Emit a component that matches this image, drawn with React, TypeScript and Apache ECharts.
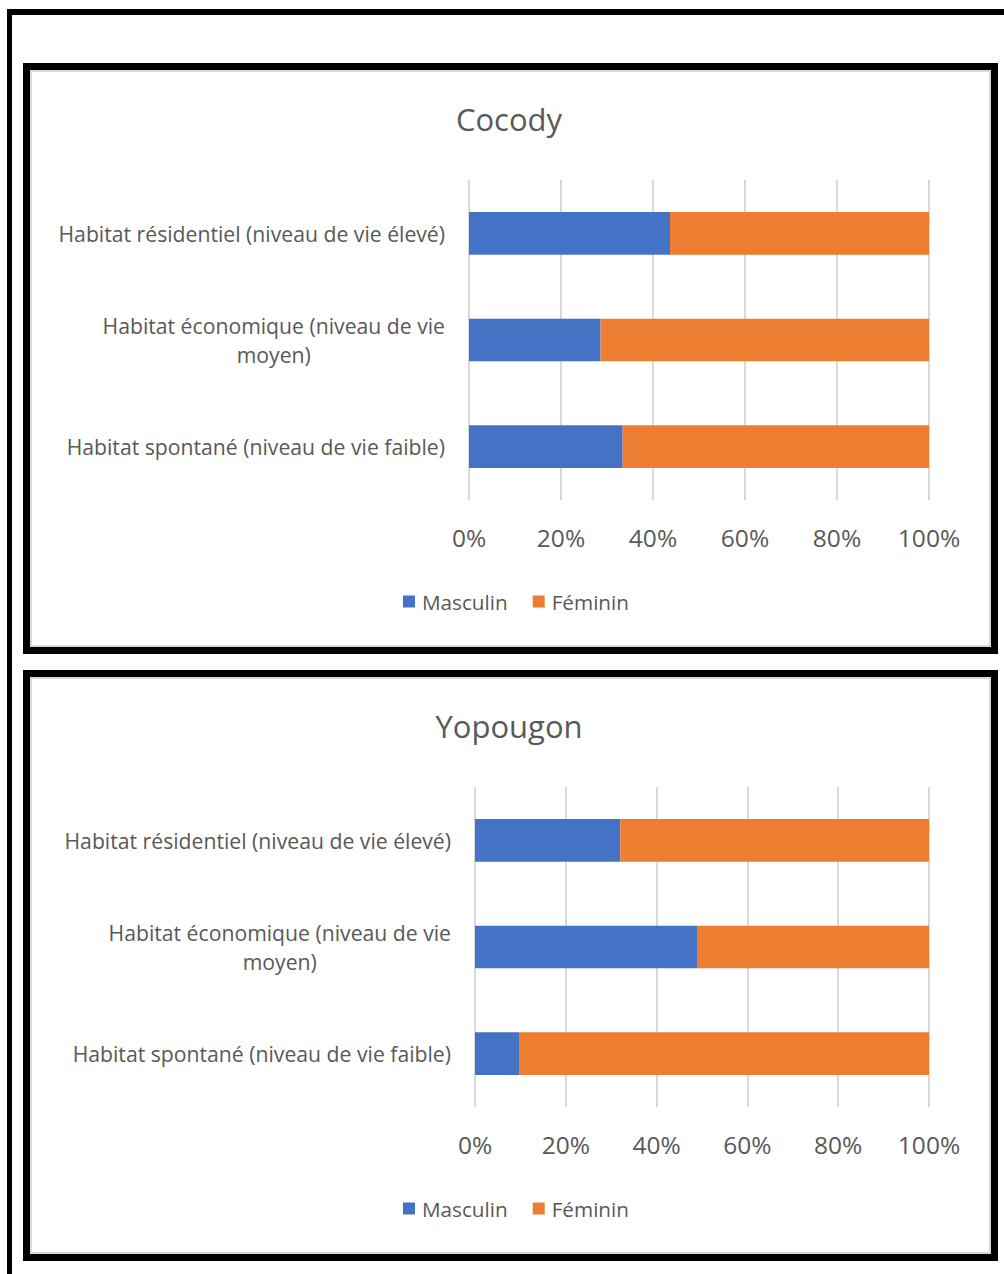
import React, { useEffect, useRef } from "react";
import * as echarts from "echarts";

// ---- Data ----
const categories = [
  "Habitat résidentiel (niveau de vie élevé)",
  "Habitat économique (niveau de vie moyen)",
  "Habitat spontané (niveau de vie faible)",
];
const seriesNames = ["Masculin", "Féminin"];
const chartTitles = ["Cocody", "Yopougon"];
const cocodyMasculin = [43.7, 28.6, 33.4];
const cocodyFeminin = [56.3, 71.4, 66.6];
const yopougonMasculin = [32.0, 48.9, 9.7];
const yopougonFeminin = [68.0, 51.1, 90.3];
const axisMin = 0;
const axisMax = 100;
const axisStep = 20;

// ---- Styles ----
const FONT = "'Open Sans', 'Noto Sans', sans-serif";
const TEXT = "#595959";
const BLUE = "#4472C4";
const ORANGE = "#ED7D31";
const GRID_LINE = "#d9d9d9";

const wrapLabel = (v: string) =>
  v
    .replace(" moyen)", "\nmoyen)")
    .split("\n")
    .map((l) => `{c|${l}}`)
    .join("\n");

export default function App() {
  const ref = useRef<HTMLDivElement>(null);

  useEffect(() => {
    if (!ref.current) return;
    const chart = echarts.init(ref.current, undefined, { renderer: "svg" });

    const grids = [
      { left: 469, top: 180, width: 460, height: 320 },
      { left: 475, top: 787, width: 454, height: 320 },
    ];

    const xAxes = grids.map((_, i) => ({
      type: "value",
      gridIndex: i,
      min: axisMin,
      max: axisMax,
      interval: axisStep,
      axisLine: { show: false },
      axisTick: { show: false },
      splitLine: { show: true, lineStyle: { color: GRID_LINE, width: 2 } },
      axisLabel: {
        formatter: "{value}%",
        color: TEXT,
        fontSize: 24.5,
        fontFamily: FONT,
        margin: 25,
      },
    }));

    const yAxes = grids.map((_, i) => ({
      type: "category",
      gridIndex: i,
      inverse: true,
      data: categories,
      axisLine: { show: false },
      axisTick: { show: false },
      splitLine: { show: false },
      axisLabel: {
        margin: 24,
        color: TEXT,
        fontSize: 21.2,
        fontFamily: FONT,
        lineHeight: 29,
        formatter: wrapLabel,
        rich: {
          c: {
            align: "center",
            color: TEXT,
            fontSize: 21.2,
            fontFamily: FONT,
            lineHeight: 29,
          },
        },
      },
    }));

    const mk = (name: string, data: number[], idx: number, color: string) => ({
      type: "bar",
      name,
      data,
      stack: "s" + idx,
      xAxisIndex: idx,
      yAxisIndex: idx,
      barCategoryGap: "60%",
      itemStyle: { color },
      emphasis: { disabled: true },
    });

    const legendBase = {
      left: 403,
      padding: 0,
      itemWidth: 12,
      itemHeight: 12,
      itemGap: 25,
      icon: "rect",
      data: seriesNames,
      textStyle: {
        fontSize: 20.7,
        color: TEXT,
        fontFamily: FONT,
        padding: [0, 0, 0, 2],
      },
    };

    const frame = (y: number) => [
      {
        type: "rect",
        shape: { x: 26.5, y: y, width: 968, height: 584 },
        style: { fill: "#ffffff", stroke: "#000000", lineWidth: 7 },
        z: -10,
      },
      {
        type: "rect",
        shape: { x: 31, y: y + 4.5, width: 959, height: 575 },
        style: { fill: "none", stroke: "#d9d9d9", lineWidth: 2 },
        z: -9,
      },
    ];

    chart.setOption({
      animation: false,
      backgroundColor: "#ffffff",
      title: chartTitles.map((t, i) => ({
        text: t,
        left: 509,
        textAlign: "center",
        top: i === 0 ? 103 : 710,
        padding: 0,
        textStyle: {
          fontSize: 31,
          fontWeight: "normal",
          color: TEXT,
          fontFamily: FONT,
        },
      })),
      legend: [
        { ...legendBase, top: 591 },
        { ...legendBase, top: 1198 },
      ],
      grid: grids,
      xAxis: xAxes,
      yAxis: yAxes,
      series: [
        mk(seriesNames[0], cocodyMasculin, 0, BLUE),
        mk(seriesNames[1], cocodyFeminin, 0, ORANGE),
        mk(seriesNames[0], yopougonMasculin, 1, BLUE),
        mk(seriesNames[1], yopougonFeminin, 1, ORANGE),
      ],
      graphic: [
        {
          type: "rect",
          shape: { x: 7, y: 9, width: 997, height: 6 },
          style: { fill: "#000000" },
          z: -10,
        },
        {
          type: "rect",
          shape: { x: 7, y: 9, width: 5, height: 1265 },
          style: { fill: "#000000" },
          z: -10,
        },
        ...frame(66.5),
        ...frame(673.5),
      ],
    });

    return () => chart.dispose();
  }, []);

  return (
    <div
      ref={ref}
      style={{
        position: "absolute",
        left: 0,
        top: 0,
        width: 1004,
        height: 1274,
        background: "#ffffff",
      }}
    />
  );
}
